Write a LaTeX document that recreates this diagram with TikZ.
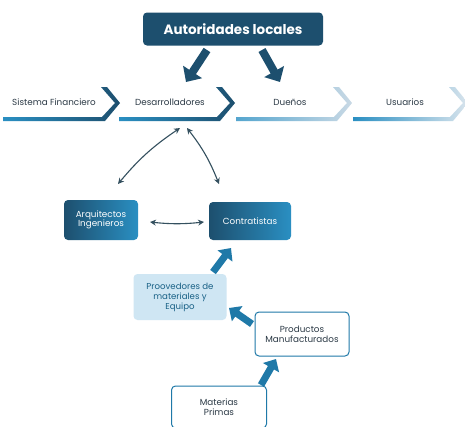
\documentclass[tikz,border=0pt]{standalone}
\usepackage{fontspec}
\setmainfont{Poppins}
\usetikzlibrary{arrows.meta,shapes.geometric}
\definecolor{navy}{HTML}{1D4F6E}
\definecolor{midblue}{HTML}{1F79A8}
\definecolor{brightblue}{HTML}{2A8FC2}
\definecolor{lightfill}{HTML}{CFE6F3}
\definecolor{paleband}{HTML}{C9D9E5}
\definecolor{txtdark}{HTML}{2C3A46}
\definecolor{arrowgray}{HTML}{34505F}
\tikzset{
  bandtxt/.style={font=\fontsize{8.8}{10}\selectfont, text=txtdark, anchor=center},
  darkbox/.style={rounded corners=4pt, left color=navy, right color=brightblue, text=white, align=center, font=\fontsize{8.8}{9.6}\selectfont, inner sep=0pt},
  outbox/.style={rounded corners=4pt, draw=midblue, line width=1pt, fill=white, text=txtdark, align=center, font=\fontsize{8.8}{9.6}\selectfont, inner sep=0pt},
  bigarrow/.style={line width=7pt, draw=midblue, -{Triangle[length=10pt,width=18pt]}},
  bigarrowdark/.style={line width=8pt, draw=navy, -{Triangle[length=12pt,width=22pt]}},
  twoway/.style={line width=1.1pt, draw=arrowgray, {Stealth[length=6pt,width=6pt]}-{Stealth[length=6pt,width=6pt]}},
}
\newcommand{\chevband}[4]{% x0, x1, left color, right color
  \path[left color=#3, right color=#4]
    (#1,117) -- (#2-15,117) -- (#2-2,103) -- (#2-16,87) -- (#2-10,87) -- (#2+3,103) -- (#2-12,121) -- (#1,121) -- cycle;
}
\begin{document}
\begin{tikzpicture}[x=1pt,y=-1pt]
\useasboundingbox[fill=white] (0,0) rectangle (465,426);

% top box
\node[rounded corners=4pt, fill=navy, text=white, font=\fontsize{13.5}{14}\bfseries\selectfont, minimum width=180pt, minimum height=33pt] (aut) at (233,29) {Autoridades locales};

% bands
\chevband{3}{117}{brightblue}{navy}
\chevband{119}{232}{brightblue}{navy}
\chevband{236}{349}{brightblue!80!white}{paleband}
\chevband{353}{465}{brightblue}{paleband!70!white}
\node[bandtxt] (sf) at (54,102) {Sistema Financiero};
\node[bandtxt] (des) at (170,102) {Desarrolladores};
\node[bandtxt] (due) at (290,102) {Dueños};
\node[bandtxt] (usu) at (405,102) {Usuarios};

% big arrows from top box
\coordinate (a1s) at (207,50);
\coordinate (a1e) at (186,82);
\coordinate (a2s) at (262,50);
\coordinate (a2e) at (280,82);
\draw[bigarrowdark] (a1s) -- (a1e);
\draw[bigarrowdark] (a2s) -- (a2e);

% boxes
\node[darkbox, minimum width=74pt, minimum height=40pt] (arq) at (101,220) {Arquitectos\\Ingenieros};
\node[darkbox, minimum width=82pt, minimum height=38pt] (con) at (250,221) {Contratistas};
\node[rounded corners=4pt, fill=lightfill, text=midblue!80!black, align=center, font=\fontsize{8.6}{10}\selectfont, minimum width=93pt, minimum height=46pt, inner sep=0pt] (pro) at (180,297) {Proovedores de\\materiales y\\Equipo};
\node[outbox, minimum width=94pt, minimum height=44pt] (man) at (302,334) {Productos\\Manufacturados};
\node[outbox, minimum width=95pt, minimum height=42pt] (mat) at (219,407) {Materias\\Primas};

% two-way arrows
\coordinate (d1) at (180,128);
\coordinate (d2) at (187,128);
\coordinate (t1) at (118,184);
\coordinate (t2) at (219,184);
\coordinate (h1) at (150,222);
\coordinate (h2) at (204,222);
\draw[twoway] (d1) to[bend right=8] (t1);
\draw[twoway] (d2) to[bend left=8] (t2);
\draw[twoway] (h1) to[bend right=6] (h2);

% blue block arrows
\coordinate (b1s) at (213,272);
\coordinate (b1e) at (231,248);
\draw[bigarrow] (b1s) -- (b1e);
\coordinate (b2s) at (252,324);
\coordinate (b2e) at (229,308);
\draw[bigarrow] (b2s) -- (b2e);
\coordinate (b3s) at (261,385);
\coordinate (b3e) at (276,359);
\draw[bigarrow] (b3s) -- (b3e);
\end{tikzpicture}
\end{document}
